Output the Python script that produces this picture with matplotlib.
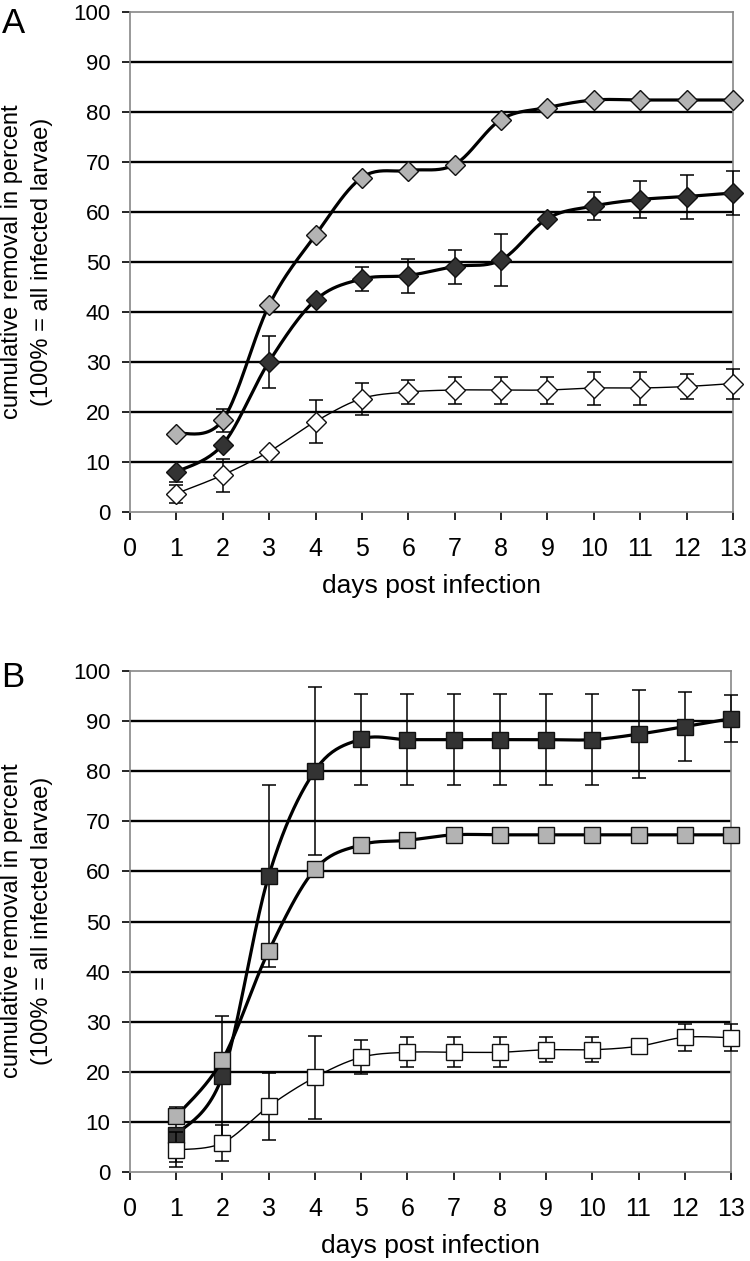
import numpy as np
import matplotlib
matplotlib.use("Agg")
import matplotlib.pyplot as plt

plt.rcParams['font.family'] = ['Liberation Sans', 'DejaVu Sans']

days = np.arange(1, 14)

# panel A (diamonds)
a_gray = [15.7, 18.4, 41.4, 55.4, 66.9, 68.3, 69.5, 78.5, 80.9, 82.4, 82.4, 82.4, 82.4]
a_gray_err = [0, 2.3, 0, 0, 0, 0, 0, 0, 0, 0, 0, 0, 0]
a_dark = [8.0, 13.5, 30.1, 42.4, 46.6, 47.3, 49.1, 50.4, 58.7, 61.2, 62.5, 63.1, 63.8]
a_dark_err = [2.0, 0, 5.2, 0, 2.4, 3.4, 3.4, 5.2, 0, 2.8, 3.7, 4.4, 4.4]
a_white = [3.7, 7.4, 12.1, 18.1, 22.7, 24.0, 24.4, 24.4, 24.4, 24.8, 24.8, 25.1, 25.7]
a_white_err = [1.8, 3.3, 0, 4.3, 3.2, 2.4, 2.7, 2.7, 2.7, 3.3, 3.3, 2.5, 3.0]

# panel B (squares)
b_dark = [7.4, 19.2, 59.1, 80.1, 86.4, 86.3, 86.3, 86.3, 86.3, 86.3, 87.4, 88.9, 90.5]
b_dark_err = [5.5, 12.0, 18.1, 16.8, 9.1, 9.1, 9.1, 9.1, 9.1, 9.1, 8.8, 6.9, 4.7]
b_gray = [11.1, 22.4, 44.1, 60.4, 65.3, 66.2, 67.3, 67.3, 67.3, 67.3, 67.3, 67.3, 67.3]
b_gray_err = [0, 0, 0, 0, 0, 0, 0, 0, 0, 0, 0, 0, 0]
b_white = [4.4, 5.8, 13.1, 18.9, 22.9, 23.9, 23.9, 23.9, 24.4, 24.4, 25.1, 26.9, 26.8]
b_white_err = [3.5, 3.6, 6.7, 8.3, 3.4, 3.0, 3.0, 3.0, 2.5, 2.5, 0, 2.7, 2.7]

DARK = '#333333'
GRAY = '#b3b3b3'
ylabel = 'cumulative removal in percent\n(100% = all infected larvae)'


def smooth(x, y, n=25):
    # excel-like smoothed line through the points (bezier, tension 1/6)
    pts = np.column_stack([x, y]).astype(float)
    out = []
    for i in range(len(pts) - 1):
        p0 = pts[i - 1] if i > 0 else pts[i]
        p1 = pts[i]
        p2 = pts[i + 1]
        p3 = pts[i + 2] if i + 2 < len(pts) else pts[i + 1]
        c1 = p1 + (p2 - p0) / 6
        c2 = p2 - (p3 - p1) / 6
        t = np.linspace(0, 1, n)[:, None]
        seg = (1 - t)**3 * p1 + 3 * (1 - t)**2 * t * c1 + 3 * (1 - t) * t**2 * c2 + t**3 * p2
        out.append(seg if i == 0 else seg[1:])
    out = np.vstack(out)
    return out[:, 0], out[:, 1]


def series(ax, y, err, face, marker, ms, lw, z):
    eb = ax.errorbar(days, y, yerr=err, fmt='none', ecolor='black', elinewidth=1.1,
                     capsize=5, capthick=1.1, zorder=z)
    for art in eb.lines[1] + eb.lines[2]:
        art.set_clip_on(False)
    sx, sy = smooth(days, y)
    ax.plot(sx, sy, color='black', lw=lw, zorder=z + 0.1, solid_capstyle='round',
            clip_on=False)
    ax.plot(days, y, ls='none', marker=marker, ms=ms, mfc=face, mec='#111111',
            mew=1.0, zorder=z + 0.2, clip_on=False)


def setup(ax):
    ax.set_xlim(0, 13)
    ax.set_ylim(0, 100)
    ax.set_xticks(range(0, 14))
    ax.set_yticks(range(0, 101, 10))
    ax.yaxis.grid(True, color='black', lw=1.7)
    gl = ax.get_ygridlines()
    gl[0].set_visible(False)
    gl[-1].set_visible(False)
    ax.set_axisbelow(True)
    for s in ax.spines.values():
        s.set_color('#888888')
        s.set_linewidth(1.2)
    ax.tick_params(axis='both', direction='out', length=6, width=1.2, color='black')
    ax.tick_params(axis='y', pad=8, labelsize=16)
    ax.tick_params(axis='x', pad=12, labelsize=18)
    ax.set_xlabel('days post infection', fontsize=19, labelpad=9)


fig = plt.figure(figsize=(7.5, 12.61), dpi=100)
W, H = 750, 1261
axA = fig.add_axes([130 / W, 1 - 512 / H, 603 / W, 500 / H])
axB = fig.add_axes([130 / W, 1 - 1172 / H, 601 / W, 501 / H])

setup(axA)
series(axA, a_white, a_white_err, 'white', 'D', 10, 1.0, 3)
series(axA, a_dark, a_dark_err, DARK, 'D', 10, 2.3, 4)
series(axA, a_gray, a_gray_err, GRAY, 'D', 10, 2.3, 5)

setup(axB)
series(axB, b_dark, b_dark_err, DARK, 's', 12, 2.3, 3)
series(axB, b_gray, b_gray_err, GRAY, 's', 12, 2.3, 4)
series(axB, b_white, b_white_err, 'white', 's', 12, 1.0, 5)

fig.text(27 / W, 1 - 262 / H, ylabel, rotation=90, ha='center', va='center',
         fontsize=17, linespacing=1.45, multialignment='center')
fig.text(27 / W, 1 - 921 / H, ylabel, rotation=90, ha='center', va='center',
         fontsize=17, linespacing=1.45, multialignment='center')
fig.text(2 / W, 1 - 33 / H, 'A', fontsize=25, ha='left', va='baseline')
fig.text(1 / W, 1 - 687 / H, 'B', fontsize=25, ha='left', va='baseline')

fig.savefig('out.png', dpi=100)
